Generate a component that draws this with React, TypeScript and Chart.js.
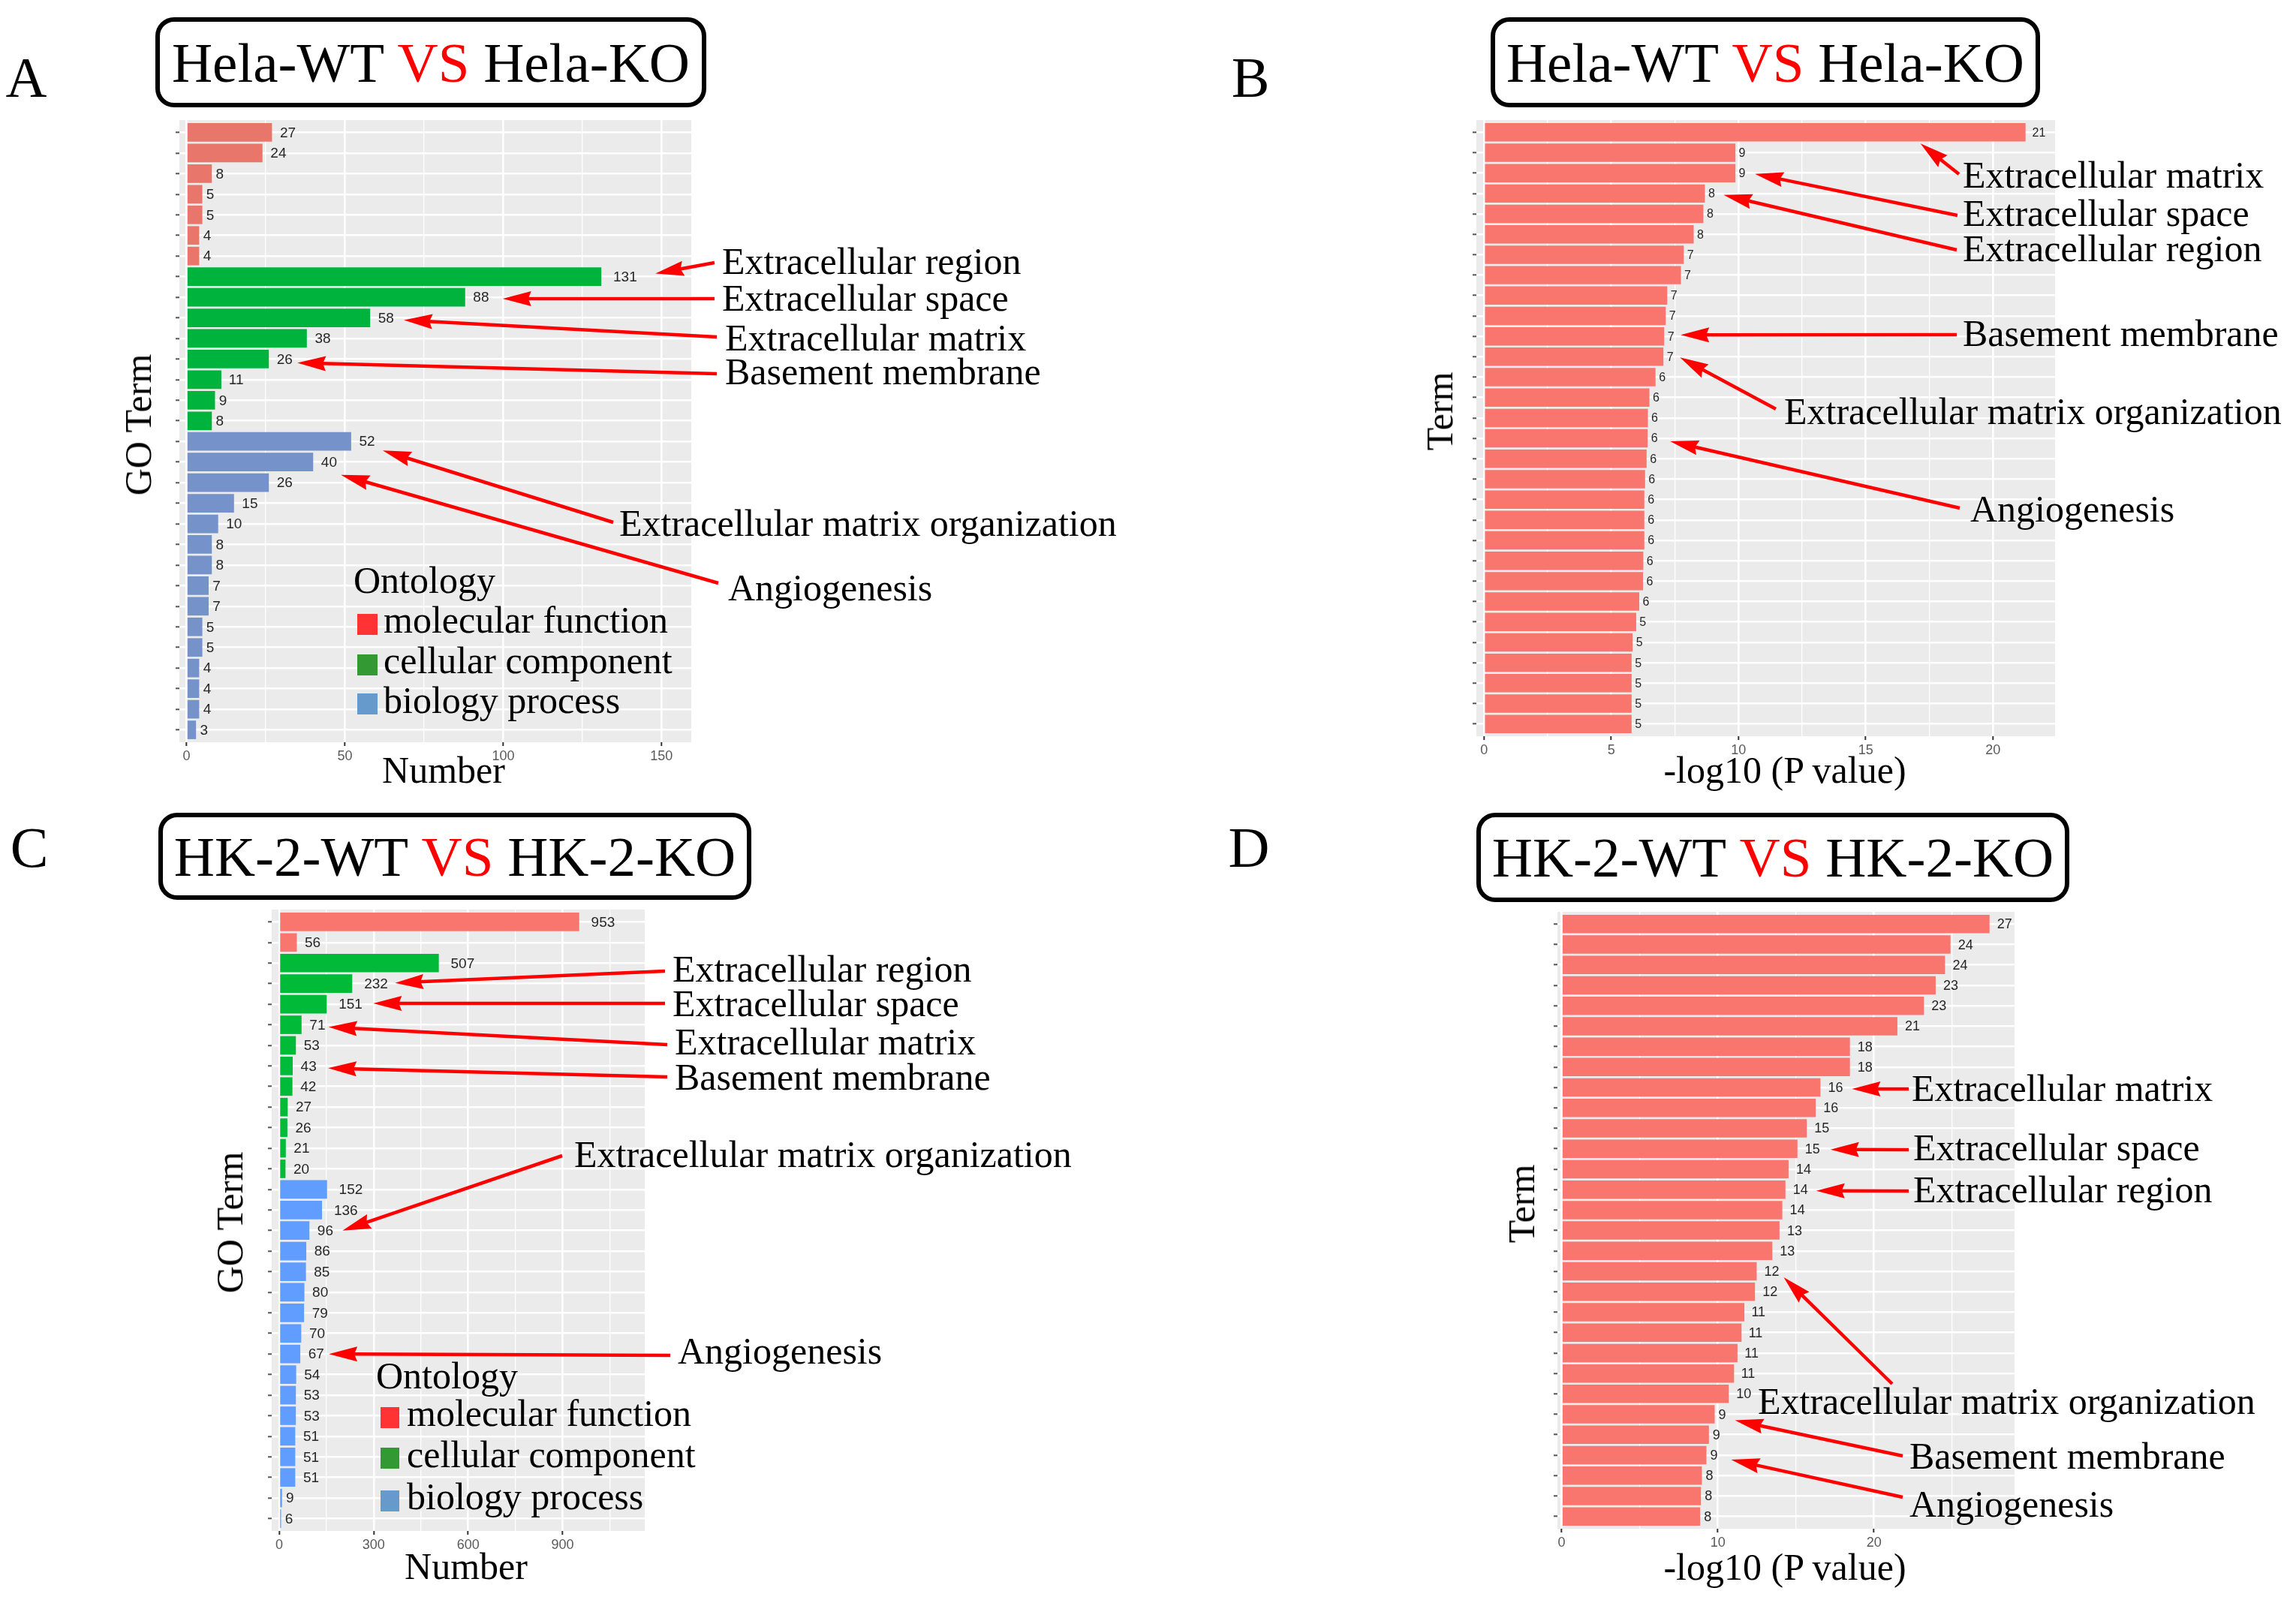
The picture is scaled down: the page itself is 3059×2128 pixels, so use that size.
import React, { useEffect, useRef } from 'react';
import { Chart, registerables } from 'chart.js';
Chart.register(...registerables);

const W = 3059;
const H = 2128;
const SERIF = "'Liberation Serif', 'Times New Roman', serif";
const SANS = "'Liberation Sans Narrow', 'Liberation Sans', Arial, sans-serif";

// ---------- Panel A: Hela GO term counts ----------
const mfA = [27, 24, 8, 5, 5, 4, 4];
const ccA = [131, 88, 58, 38, 26, 11, 9, 8];
const bpA = [52, 40, 26, 15, 10, 8, 8, 7, 7, 5, 5, 4, 4, 4, 3];
const ticksA = [0, 50, 100, 150];

// ---------- Panel B: Hela -log10(P) ----------
const pvalB = [21.28, 9.88, 9.88, 8.68, 8.62, 8.24, 7.85, 7.74, 7.2, 7.14, 7.08, 7.05, 6.74, 6.5, 6.44,
  6.43, 6.39, 6.33, 6.3, 6.3, 6.3, 6.26, 6.25, 6.1, 5.98, 5.84, 5.8, 5.8, 5.8, 5.8];
const ticksB = [0, 5, 10, 15, 20];

// ---------- Panel C: HK-2 GO term counts ----------
const mfC = [953, 56];
const ccC = [507, 232, 151, 71, 53, 43, 42, 27, 26, 21, 20];
const bpC = [152, 136, 96, 86, 85, 80, 79, 70, 67, 54, 53, 53, 51, 51, 51, 9, 6];
const ticksC = [0, 300, 600, 900];

// ---------- Panel D: HK-2 -log10(P) ----------
const pvalD = [27.4, 24.9, 24.55, 23.95, 23.2, 21.5, 18.46, 18.46, 16.57, 16.27, 15.7, 15.1, 14.53, 14.33, 14.13,
  13.95, 13.49, 12.49, 12.38, 11.7, 11.52, 11.26, 11.04, 10.7, 9.8, 9.43, 9.27, 8.98, 8.92, 8.87];
const ticksD = [0, 10, 20];

const ontology = ['molecular function', 'cellular component', 'biology process'];
const legendColors = ['#FF3333', '#339933', '#6699CC'];

type Ann = { text: string; tx: number; ty: number; tail: [number, number]; bar: number; dx: number; dy: number };
type Panel = {
  values: number[];
  colors: string[];
  labels: string[];
  area: { l: number; r: number; t: number; b: number };
  xmin: number;
  xmax: number;
  ticks: number[];
  labelSize: number;
  anns: Ann[];
};

const rep = (arr: number[], c: string) => arr.map(() => c);

const valsA = [...mfA, ...ccA, ...bpA];
const valsC = [...mfC, ...ccC, ...bpC];

const panels: Panel[] = [
  {
    values: valsA,
    colors: [...rep(mfA, '#E8766B'), ...rep(ccA, '#00B33C'), ...rep(bpA, '#7592CB')],
    labels: valsA.map(String),
    area: { l: 239, r: 921, t: 160, b: 989 },
    xmin: -2.25,
    xmax: 159.4,
    ticks: ticksA,
    labelSize: 19,
    anns: [
      { text: 'Extracellular region', tx: 962, ty: 365, tail: [952, 350], bar: 8, dx: 72, dy: -4 },
      { text: 'Extracellular space', tx: 962, ty: 414, tail: [952, 398], bar: 9, dx: 50, dy: 2 },
      { text: 'Extracellular matrix', tx: 966, ty: 467, tail: [955, 449], bar: 10, dx: 45, dy: 3 },
      { text: 'Basement membrane', tx: 966, ty: 512, tail: [955, 498], bar: 12, dx: 38, dy: 5 },
      { text: 'Extracellular matrix organization', tx: 825, ty: 714, tail: [817, 696], bar: 16, dx: 42, dy: 12 },
      { text: 'Angiogenesis', tx: 970, ty: 800, tail: [957, 777], bar: 17, dx: 37, dy: 17 },
    ],
  },
  {
    values: pvalB,
    colors: rep(pvalB, '#F8766D'),
    labels: pvalB.map((v) => String(Math.floor(v))),
    area: { l: 1967, r: 2738, t: 160, b: 981 },
    xmin: -0.3,
    xmax: 22.44,
    ticks: ticksB,
    labelSize: 16,
    anns: [
      { text: 'Extracellular matrix', tx: 2615, ty: 250, tail: [2610, 232], bar: 1, dx: -140, dy: 15 },
      { text: 'Extracellular space', tx: 2615, ty: 301, tail: [2608, 287], bar: 3, dx: 26, dy: 1 },
      { text: 'Extracellular region', tx: 2615, ty: 348, tail: [2607, 333], bar: 4, dx: 25, dy: 2 },
      { text: 'Basement membrane', tx: 2615, ty: 461, tail: [2607, 446], bar: 11, dx: 22, dy: -2 },
      { text: 'Extracellular matrix organization', tx: 2377, ty: 565, tail: [2366, 545], bar: 12, dx: 22, dy: 1 },
      { text: 'Angiogenesis', tx: 2625, ty: 695, tail: [2611, 677], bar: 16, dx: 30, dy: 4 },
    ],
  },
  {
    values: valsC,
    colors: [...rep(mfC, '#F8766D'), ...rep(ccC, '#00BA38'), ...rep(bpC, '#619CFF')],
    labels: valsC.map(String),
    area: { l: 362, r: 859, t: 1212, b: 2040 },
    xmin: -23.8,
    xmax: 1161,
    ticks: ticksC,
    labelSize: 19,
    anns: [
      { text: 'Extracellular region', tx: 896, ty: 1308, tail: [886, 1294], bar: 4, dx: 57, dy: -1 },
      { text: 'Extracellular space', tx: 896, ty: 1354, tail: [886, 1337], bar: 5, dx: 62, dy: -1 },
      { text: 'Extracellular matrix', tx: 899, ty: 1405, tail: [889, 1392], bar: 6, dx: 36, dy: 3 },
      { text: 'Basement membrane', tx: 899, ty: 1452, tail: [889, 1435], bar: 8, dx: 47, dy: 3 },
      { text: 'Extracellular matrix organization', tx: 765, ty: 1555, tail: [749, 1540], bar: 16, dx: 44, dy: 0 },
      { text: 'Angiogenesis', tx: 903, ty: 1817, tail: [893, 1806], bar: 22, dx: 38, dy: 0 },
    ],
  },
  {
    values: pvalD,
    colors: rep(pvalD, '#F8766D'),
    labels: pvalD.map((v) => String(Math.floor(v))),
    area: { l: 2075, r: 2684, t: 1215, b: 2037 },
    xmin: -0.27,
    xmax: 29.0,
    ticks: ticksD,
    labelSize: 18,
    anns: [
      { text: 'Extracellular matrix', tx: 2547, ty: 1467, tail: [2543, 1451], bar: 9, dx: 42, dy: 2 },
      { text: 'Extracellular space', tx: 2549, ty: 1546, tail: [2543, 1532], bar: 12, dx: 44, dy: 1 },
      { text: 'Extracellular region', tx: 2549, ty: 1602, tail: [2543, 1587], bar: 14, dx: 41, dy: 1.5 },
      { text: 'Extracellular matrix organization', tx: 2342, ty: 1884, tail: [2521, 1844], bar: 18, dx: 36, dy: 8 },
      { text: 'Basement membrane', tx: 2544, ty: 1957, tail: [2535, 1940], bar: 25, dx: 27, dy: 8 },
      { text: 'Angiogenesis', tx: 2544, ty: 2021, tail: [2535, 1995], bar: 27, dx: 33, dy: 6 },
    ],
  },
];

const YW = 6;
const XH = 30;

function drawArrow(ctx: CanvasRenderingContext2D, x1: number, y1: number, x2: number, y2: number) {
  const ang = Math.atan2(y2 - y1, x2 - x1);
  const L = 38;
  const hw = 10;
  const c = Math.cos(ang);
  const s = Math.sin(ang);
  const bx = x2 - L * c;
  const by = y2 - L * s;
  ctx.strokeStyle = '#FF0000';
  ctx.fillStyle = '#FF0000';
  ctx.lineWidth = 4.5;
  ctx.lineCap = 'butt';
  ctx.beginPath();
  ctx.moveTo(x1, y1);
  ctx.lineTo(bx + 6 * c, by + 6 * s);
  ctx.stroke();
  ctx.beginPath();
  ctx.moveTo(x2, y2);
  ctx.lineTo(bx - hw * s, by + hw * c);
  ctx.lineTo(bx + 4 * c, by + 4 * s);
  ctx.lineTo(bx + hw * s, by - hw * c);
  ctx.closePath();
  ctx.fill();
}

function makeConfig(p: Panel): any {
  const isMajor = (v: number) => p.ticks.some((t) => Math.abs(t - v) < 1e-6);
  const bgPlugin = {
    id: 'panelBg',
    beforeDraw(chart: any) {
      const { ctx, chartArea: a } = chart;
      ctx.save();
      ctx.fillStyle = '#EBEBEB';
      ctx.fillRect(a.left, a.top, a.right - a.left, a.bottom - a.top);
      ctx.restore();
    },
  };
  const labelPlugin = {
    id: 'barLabels',
    afterDatasetsDraw(chart: any) {
      const ctx = chart.ctx;
      const meta = chart.getDatasetMeta(0);
      ctx.save();
      ctx.font = `${p.labelSize}px ${SANS}`;
      ctx.fillStyle = '#262626';
      ctx.textBaseline = 'middle';
      ctx.textAlign = 'left';
      meta.data.forEach((el: any, i: number) => {
        const s = p.labels[i];
        const w = ctx.measureText(s).width;
        ctx.fillText(s, el.x + 0.5 * w, el.y + 1);
      });
      ctx.restore();
    },
  };
  const arrowPlugin = {
    id: 'arrows',
    afterDraw(chart: any) {
      const ctx = chart.ctx;
      const xs = chart.scales.x;
      const ys = chart.scales.y;
      ctx.save();
      p.anns.forEach((a) => {
        const tx = xs.getPixelForValue(p.values[a.bar - 1]) + a.dx;
        const ty = ys.getPixelForValue(a.bar) + a.dy;
        drawArrow(ctx, a.tail[0], a.tail[1], tx, ty);
      });
      ctx.restore();
    },
  };
  return {
    type: 'bar',
    data: {
      datasets: [
        {
          data: p.values.map((v, i) => ({ x: v, y: i + 1 })),
          backgroundColor: p.colors,
          borderWidth: 0,
          barPercentage: 0.9,
          categoryPercentage: 1,
        },
      ],
    },
    options: {
      indexAxis: 'y',
      animation: false,
      responsive: false,
      devicePixelRatio: 1,
      events: [],
      layout: {
        padding: { left: p.area.l - YW, right: W - p.area.r, top: p.area.t, bottom: H - p.area.b - XH },
      },
      plugins: { legend: { display: false }, tooltip: { enabled: false }, title: { display: false } },
      scales: {
        x: {
          type: 'linear',
          position: 'bottom',
          min: p.xmin,
          max: p.xmax,
          offset: false,
          afterBuildTicks: (s: any) => {
            const step = (p.ticks[1] - p.ticks[0]) / 2;
            const out: { value: number }[] = [];
            for (let v = p.ticks[0]; v <= p.xmax + 1e-9; v += step) out.push({ value: Math.round(v * 1000) / 1000 });
            s.ticks = out;
          },
          afterFit: (s: any) => {
            s.height = XH;
          },
          border: { display: false },
          grid: {
            offset: false,
            color: '#FFFFFF',
            lineWidth: (c: any) => (c.tick && isMajor(c.tick.value) ? 2.6 : 1.3),
            drawTicks: true,
            tickLength: 5,
            tickWidth: 2,
            tickColor: (c: any) => (c.tick && isMajor(c.tick.value) ? '#333333' : 'rgba(0,0,0,0)'),
          },
          ticks: {
            autoSkip: false,
            maxRotation: 0,
            padding: 3,
            color: '#5A5A5A',
            font: { family: SANS, size: 18 },
            callback: (v: any) => (isMajor(Number(v)) ? String(v) : ''),
          },
        },
        y: {
          type: 'linear',
          reverse: true,
          min: 0.4,
          max: p.values.length + 0.6,
          offset: false,
          afterBuildTicks: (s: any) => {
            s.ticks = p.values.map((_, i) => ({ value: i + 1 }));
          },
          afterFit: (s: any) => {
            s.width = YW;
          },
          border: { display: false },
          grid: {
            offset: false,
            color: '#FFFFFF',
            lineWidth: 2.6,
            drawTicks: true,
            tickLength: 5,
            tickWidth: 2,
            tickColor: '#555555',
          },
          ticks: { display: false },
        },
      },
    },
    plugins: [bgPlugin, labelPlugin, arrowPlugin],
  };
}

function Label(props: { x: number; y: number; fs?: number; center?: boolean; children: React.ReactNode }) {
  const fs = props.fs ?? 50;
  return (
    <div
      style={{
        position: 'absolute',
        left: props.x,
        top: props.y - 0.8375 * fs,
        fontFamily: SERIF,
        fontSize: fs,
        lineHeight: `${fs}px`,
        whiteSpace: 'nowrap',
        color: '#000',
        transform: props.center ? 'translateX(-50%)' : undefined,
      }}
    >
      {props.children}
    </div>
  );
}

function VLabel(props: { cx: number; cy: number; fs?: number; children: React.ReactNode }) {
  const fs = props.fs ?? 50;
  return (
    <div
      style={{
        position: 'absolute',
        left: props.cx,
        top: props.cy,
        fontFamily: SERIF,
        fontSize: fs,
        lineHeight: `${fs}px`,
        whiteSpace: 'nowrap',
        color: '#000',
        transform: 'translate(-50%, -50%) rotate(-90deg)',
      }}
    >
      {props.children}
    </div>
  );
}

function TitleBox(props: { x: number; y: number; w: number; h: number; left: string; right: string }) {
  return (
    <div
      style={{
        position: 'absolute',
        left: props.x,
        top: props.y,
        width: props.w,
        height: props.h,
        boxSizing: 'border-box',
        border: '6px solid #000',
        borderRadius: 25,
        display: 'flex',
        alignItems: 'center',
        justifyContent: 'center',
        fontFamily: SERIF,
        fontSize: 75,
        lineHeight: '75px',
        whiteSpace: 'pre',
        color: '#000',
        background: '#fff',
      }}
    >
      <span>{props.left + ' '}</span>
      <span style={{ color: '#FF0000' }}>VS</span>
      <span>{' ' + props.right}</span>
    </div>
  );
}

function Legend(props: { x: number; base: number; sx: number; sw: number; tx: number; centers: number[]; bases: number[] }) {
  return (
    <>
      <Label x={props.x} y={props.base}>Ontology</Label>
      {ontology.map((name, i) => (
        <React.Fragment key={name}>
          <div
            style={{
              position: 'absolute',
              left: props.sx,
              top: props.centers[i] - 14,
              width: props.sw,
              height: 28,
              background: legendColors[i],
            }}
          />
          <Label x={props.tx} y={props.bases[i]}>{name}</Label>
        </React.Fragment>
      ))}
    </>
  );
}

export default function App() {
  const r0 = useRef<HTMLCanvasElement>(null);
  const r1 = useRef<HTMLCanvasElement>(null);
  const r2 = useRef<HTMLCanvasElement>(null);
  const r3 = useRef<HTMLCanvasElement>(null);
  const refs = [r0, r1, r2, r3];

  useEffect(() => {
    const charts = panels.map((p, i) => new Chart(refs[i].current as HTMLCanvasElement, makeConfig(p)));
    return () => charts.forEach((c) => c.destroy());
  }, []);

  return (
    <div style={{ position: 'fixed', left: 0, top: 0, width: W, height: H, background: '#fff', overflow: 'hidden' }}>
      {refs.map((r, i) => (
        <canvas key={i} ref={r} width={W} height={H} style={{ position: 'absolute', left: 0, top: 0, width: W, height: H }} />
      ))}

      {/* panel letters */}
      <Label x={35} y={129} fs={76} center>A</Label>
      <Label x={1666} y={129} fs={76} center>B</Label>
      <Label x={39} y={1155} fs={76} center>C</Label>
      <Label x={1664} y={1155} fs={76} center>D</Label>

      {/* titles */}
      <TitleBox x={207} y={23} w={734} h={120} left="Hela-WT" right="Hela-KO" />
      <TitleBox x={1986} y={23} w={732} h={120} left="Hela-WT" right="Hela-KO" />
      <TitleBox x={211} y={1083} w={790} h={116} left="HK-2-WT" right="HK-2-KO" />
      <TitleBox x={1967} y={1083} w={790} h={119} left="HK-2-WT" right="HK-2-KO" />

      {/* axis titles */}
      <Label x={591} y={1043} center>Number</Label>
      <VLabel cx={184} cy={566}>GO Term</VLabel>
      <Label x={2378} y={1043} center>-log10 (P value)</Label>
      <VLabel cx={1918} cy={548}>Term</VLabel>
      <Label x={621} y={2104} center>Number</Label>
      <VLabel cx={306} cy={1629}>GO Term</VLabel>
      <Label x={2378} y={2105} center>-log10 (P value)</Label>
      <VLabel cx={2027} cy={1604}>Term</VLabel>

      {/* legends */}
      <Legend x={471} base={790} sx={476} sw={27} tx={511} centers={[832, 886, 938]} bases={[843, 897, 950]} />
      <Legend x={501} base={1850} sx={507} sw={25} tx={542} centers={[1889, 1943, 2000]} bases={[1900, 1955, 2011]} />

      {/* annotation texts */}
      {panels.map((p, pi) =>
        p.anns.map((a, ai) => (
          <Label key={`${pi}-${ai}`} x={a.tx} y={a.ty}>
            {a.text}
          </Label>
        ))
      )}
    </div>
  );
}
